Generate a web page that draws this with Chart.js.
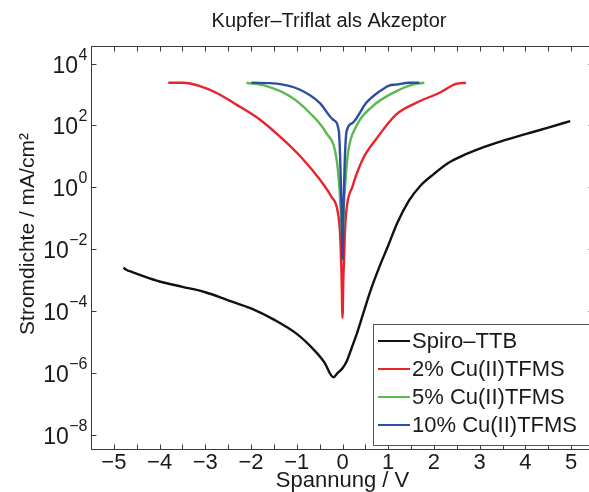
<!DOCTYPE html>
<html>
<head>
<meta charset="utf-8">
<script src="https://cdn.jsdelivr.net/npm/chart.js@4"></script>
<style>
html, body { margin: 0; padding: 0; background: #fff; overflow: hidden; }
#wrap { width: 589px; height: 492px; overflow: hidden; }
</style>
</head>
<body>
<div id="wrap"><canvas id="ivChart" width="600" height="492"></canvas></div>
<script>
const chartTitle = 'Kupfer\u2013Triflat als Akzeptor';
const xTitle = 'Spannung / V';
const yTitle = 'Stromdichte / mA/cm\u00B2';
const seriesNames = ['Spiro\u2013TTB', '2% Cu(II)TFMS', '5% Cu(II)TFMS', '10% Cu(II)TFMS'];
const seriesColors = ['#111111', '#e8232b', '#5cb84f', '#2b4da2'];
const yTickExponents = [-8, -6, -4, -2, 0, 2, 4];

// Spiro-TTB
const spiroV = [-4.79, -4.72, -4.60, -4.40, -4.00, -3.50, -3.00, -2.50, -2.00, -1.50, -1.00, -0.65, -0.40, -0.20,
  -0.10, 0.00, 0.10, 0.20, 0.30, 0.44, 0.60, 0.80, 1.00, 1.20, 1.46, 1.70, 2.00, 2.33, 2.70, 3.00, 3.50, 4.00, 4.50, 4.98];
const spiroJ = [2.5e-3, 2.1e-3, 1.8e-3, 1.4e-3, 8.9e-4, 6.0e-4, 4.0e-4, 2.2e-4, 1.2e-4, 5.2e-5, 1.8e-5, 6.0e-6, 2.2e-6, 7.1e-7,
  1.0e-6, 1.4e-6, 2.5e-6, 6.3e-6, 1.6e-5, 7.1e-5, 4.0e-4, 2.5e-3, 1.3e-2, 7.1e-2, 0.38, 1.1, 2.7, 6.3, 11.7, 17.8, 31.6, 52, 85, 138];

// 2% Cu(II)TFMS
const cu2V = [-3.81, -3.48, -3.12, -2.75, -2.32, -1.81, -1.30, -0.86, -0.50, -0.25, -0.10, -0.05, -0.02, 0.00,
  0.02, 0.05, 0.08, 0.22, 0.44, 0.73, 1.17, 1.61, 2.11, 2.48, 2.70];
const cu2J = [2400, 2400, 1860, 1120, 470, 155, 35, 7.9, 1.8, 0.51, 0.15, 0.026, 1.3e-3, 6.0e-5,
  1.3e-3, 0.026, 0.15, 1.07, 7.9, 35, 224, 537, 1120, 2190, 2400];

// 5% Cu(II)TFMS
const cu5V = [-2.10, -1.66, -1.15, -0.72, -0.36, -0.14, -0.07, -0.03, 0.00, 0.03, 0.07, 0.12, 0.30, 0.66, 1.17, 1.53, 1.79];
const cu5J = [2400, 1860, 870, 257, 58, 10, 1.07, 0.1, 0.016, 0.25, 2.0, 13, 93, 417, 1260, 2090, 2400];

// 10% Cu(II)TFMS
const cu10V = [-1.99, -1.44, -0.94, -0.50, -0.21, -0.08, -0.05, -0.02, 0.00, 0.02, 0.05, 0.09, 0.22, 0.52, 0.81, 1.02, 1.17, 1.46, 1.68];
const cu10J = [2400, 2240, 1450, 537, 155, 65, 7.9, 0.19, 4.7e-3, 0.19, 7.9, 65, 120, 537, 1260, 1950, 2090, 2400, 2400];

const FONT = "'Liberation Sans', Arial, Helvetica, sans-serif";
const TEXT = '#1a1a1a';

function toPoints(xs, ys) {
  return xs.map((v, i) => ({ x: v, y: ys[i] }));
}

const allV = [spiroV, cu2V, cu5V, cu10V];
const allJ = [spiroJ, cu2J, cu5J, cu10J];
const datasets = seriesNames.map((name, i) => ({
  label: name,
  data: toPoints(allV[i], allJ[i]),
  borderColor: seriesColors[i],
  backgroundColor: seriesColors[i],
  borderWidth: 2.4,
  pointRadius: 0,
  cubicInterpolationMode: 'monotone',
  order: seriesNames.length - 1 - i
}));

// frame with inward ticks, power-of-ten labels, title, y title and legend
const decorations = {
  id: 'decorations',
  afterDraw(chart) {
    const { ctx, chartArea: a, scales: { x, y } } = chart;
    ctx.save();
    ctx.strokeStyle = '#3a3a3a';
    ctx.lineWidth = 1;
    const L = Math.round(a.left) + 0.5, R = Math.round(a.right) - 0.5;
    const T = Math.round(a.top) + 0.5, B = Math.round(a.bottom) - 0.5;
    ctx.strokeRect(L, T, R - L, B - T);
    ctx.beginPath();
    x.ticks.forEach(t => {
      const px = Math.round(x.getPixelForValue(t.value)) + 0.5;
      ctx.moveTo(px, B); ctx.lineTo(px, B - 5);
      ctx.moveTo(px, T); ctx.lineTo(px, T + 5);
    });
    y.ticks.forEach(t => {
      const py = Math.round(y.getPixelForValue(t.value)) + 0.5;
      ctx.moveTo(L, py); ctx.lineTo(L + 5, py);
      ctx.moveTo(R, py); ctx.lineTo(R - 5, py);
    });
    ctx.stroke();

    // y tick labels as 10 with a raised exponent
    ctx.fillStyle = TEXT;
    ctx.textAlign = 'left';
    ctx.textBaseline = 'alphabetic';
    y.ticks.forEach(t => {
      const py = y.getPixelForValue(t.value);
      const e = Math.round(Math.log10(t.value));
      const expText = e < 0 ? '\u2212' + Math.abs(e) : String(e);
      ctx.font = '16px ' + FONT;
      const w2 = ctx.measureText(expText).width;
      ctx.font = '23px ' + FONT;
      const w1 = ctx.measureText('10').width;
      const x0 = 87 - w2 - w1;
      ctx.fillText('10', x0, py + 9);
      ctx.font = '16px ' + FONT;
      ctx.fillText(expText, x0 + w1 + 0.5, py - 4);
    });

    ctx.font = '20px ' + FONT;
    ctx.textAlign = 'center';
    ctx.fillText(chartTitle, 329, 27);

    ctx.save();
    ctx.translate(34, 234);
    ctx.rotate(-Math.PI / 2);
    ctx.font = '21px ' + FONT;
    ctx.fillText(yTitle, 0, 0);
    ctx.restore();

    // legend
    const lx = 373.5, ly = 324.5, lw = R - 4 - lx, lh = 121;
    ctx.fillStyle = '#fff';
    ctx.fillRect(lx, ly, lw, lh);
    ctx.strokeStyle = '#555';
    ctx.strokeRect(lx, ly, lw, lh);
    ctx.font = '22px ' + FONT;
    ctx.textAlign = 'left';
    ctx.textBaseline = 'middle';
    chart.data.datasets.forEach((ds, i) => {
      const rowY = 341 + i * 28;
      ctx.strokeStyle = ds.borderColor;
      ctx.lineWidth = 2;
      ctx.beginPath();
      ctx.moveTo(378, rowY); ctx.lineTo(410, rowY);
      ctx.stroke();
      ctx.fillStyle = TEXT;
      ctx.fillText(ds.label, 412, rowY + 1);
    });
    ctx.restore();
  }
};

new Chart(document.getElementById('ivChart'), {
  type: 'line',
  data: { datasets },
  options: {
    responsive: false,
    animation: false,
    devicePixelRatio: 1,
    layout: { padding: { left: 0, top: 46, right: 6, bottom: 0 } },
    plugins: { legend: { display: false }, tooltip: { enabled: false }, title: { display: false } },
    scales: {
      x: {
        type: 'linear',
        min: -5.5,
        max: 5.5,
        grid: { display: false },
        border: { display: false },
        ticks: {
          stepSize: 0.5,
          autoSkip: false,
          maxRotation: 0,
          padding: -8,
          color: TEXT,
          font: { family: FONT, size: 22 },
          callback: v => Math.abs(v - Math.round(v)) < 1e-9 ? (v < 0 ? '\u2212' + Math.abs(v) : String(Math.round(v))) : ''
        },
        title: { display: true, text: xTitle, color: TEXT, font: { family: FONT, size: 22 }, padding: { top: 0, bottom: -2 } },
        afterFit: s => { s.height = 42; }
      },
      y: {
        type: 'logarithmic',
        min: 3.16e-9,
        max: 3.7e4,
        grid: { display: false },
        border: { display: false },
        afterBuildTicks: s => { s.ticks = yTickExponents.map(e => ({ value: Math.pow(10, e) })); },
        ticks: { display: false },
        afterFit: s => { s.width = 91; }
      }
    }
  },
  plugins: [decorations]
});
</script>
</body>
</html>
